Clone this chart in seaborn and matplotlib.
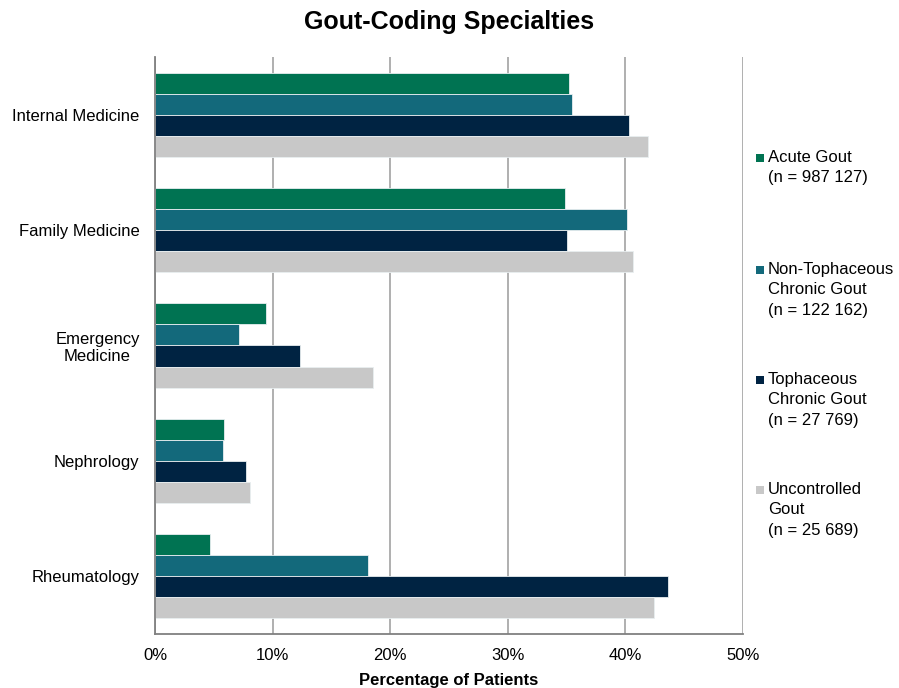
import matplotlib
matplotlib.use("Agg")
import matplotlib.pyplot as plt
import seaborn as sns
import pandas as pd
from matplotlib.patches import Rectangle
from matplotlib.ticker import FuncFormatter

specialties = ["Internal Medicine", "Family Medicine", "Emergency\nMedicine", "Nephrology", "Rheumatology"]
series = ["Acute Gout", "Non-Tophaceous Chronic Gout", "Tophaceous Chronic Gout", "Uncontrolled Gout"]
series_labels = ["Acute Gout\n(n = 987 127)",
                 "Non-Tophaceous\nChronic Gout\n(n = 122 162)",
                 "Tophaceous\nChronic Gout\n(n = 27 769)",
                 "Uncontrolled\nGout\n(n = 25 689)"]
acute = [35.2, 34.9, 9.4, 5.9, 4.7]
non_toph = [35.5, 40.15, 7.15, 5.75, 18.1]
toph = [40.3, 35.0, 12.3, 7.75, 43.6]
uncontrolled = [41.9, 40.65, 18.5, 8.1, 42.4]
colors = ["#007352", "#13697B", "#002342", "#C8C8C8"]

rows = []
for s, vals in zip(series, [acute, non_toph, toph, uncontrolled]):
    for sp, v in zip(specialties, vals):
        rows.append({"Specialty": sp, "Series": s, "Value": v})
df = pd.DataFrame(rows)

sns.set_style("white")
plt.rcParams["font.family"] = ["Liberation Sans", "DejaVu Sans"]
plt.rcParams["text.color"] = "black"
plt.rcParams["axes.labelcolor"] = "black"

fig = plt.figure(figsize=(8.99, 6.88), dpi=100)
ax = fig.add_axes([155/899, 1-634/688, (743-155)/899, (634-57)/688])

sns.barplot(data=df, y="Specialty", x="Value", hue="Series", order=specialties,
            hue_order=series, palette=colors, orient="h", width=0.73, saturation=1,
            edgecolor="#e8eef0", linewidth=0.6, ax=ax, legend=False)

ax.set_xlim(0, 50)
ax.set_xticks([0, 10, 20, 30, 40, 50])
ax.xaxis.set_major_formatter(FuncFormatter(lambda v, p: f"{int(v)}%"))
ax.set_axisbelow(True)
ax.grid(axis="x", color="#9a9a9a", linewidth=1.1)
ax.grid(axis="y", visible=False)
for side in ["top", "right"]:
    ax.spines[side].set_visible(False)
for side in ["left", "bottom"]:
    ax.spines[side].set_color("#808080")
    ax.spines[side].set_linewidth(1.3)
ax.tick_params(axis="both", length=0, labelsize=12, colors="black")
ax.tick_params(axis="x", pad=10)
ax.tick_params(axis="y", pad=11)
for lbl in ax.get_yticklabels():
    lbl.set_multialignment("center")

ax.set_ylabel("")
ax.set_xlabel("Percentage of Patients", fontsize=12, fontweight="bold", labelpad=7)

fig.suptitle("Gout-Coding Specialties", fontsize=18, fontweight="bold", y=1-22/688, va="center")

legend_tops = [158, 270, 380, 490]
for lab, col, yt in zip(series_labels, colors, legend_tops):
    fig.patches.append(Rectangle((756/899, 1-(yt+4)/688), 8/899, 8/688,
                                 transform=fig.transFigure, facecolor=col, edgecolor="none"))
    fig.text(768/899, 1-(yt-8)/688, lab, fontsize=12, va="top", ha="left",
             linespacing=1.45)

fig.savefig("out.png", dpi=100)
